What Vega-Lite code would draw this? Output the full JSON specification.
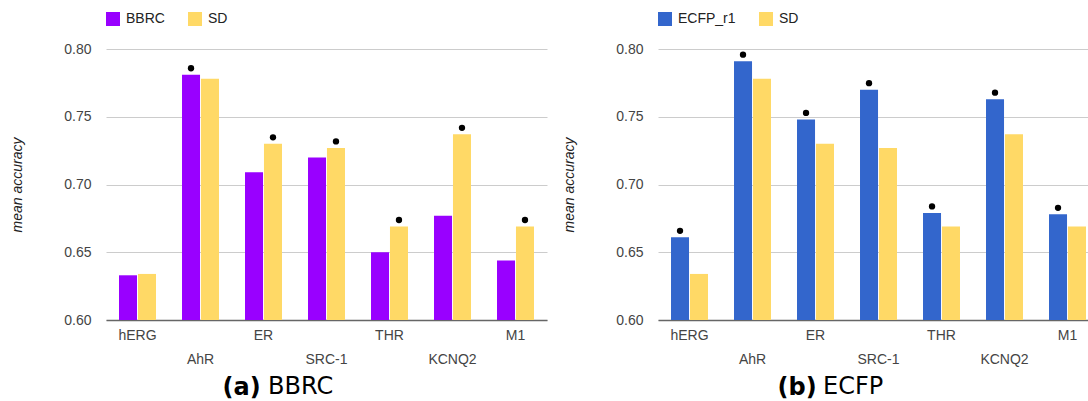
{
  "$schema": "https://vega.github.io/schema/vega-lite/v6.json",
  "padding": {"left": 10, "top": 12, "right": 0, "bottom": 0},
  "spacing": 15,
  "background": "white",
  "datasets": {
    "bbrc": [
      {"target": "hERG", "series": "BBRC", "value": 0.633, "sig": false},
      {"target": "hERG", "series": "SD", "value": 0.634, "sig": false},
      {"target": "AhR", "series": "BBRC", "value": 0.781, "sig": true},
      {"target": "AhR", "series": "SD", "value": 0.778, "sig": false},
      {"target": "ER", "series": "BBRC", "value": 0.709, "sig": false},
      {"target": "ER", "series": "SD", "value": 0.730, "sig": true},
      {"target": "SRC-1", "series": "BBRC", "value": 0.720, "sig": false},
      {"target": "SRC-1", "series": "SD", "value": 0.727, "sig": true},
      {"target": "THR", "series": "BBRC", "value": 0.650, "sig": false},
      {"target": "THR", "series": "SD", "value": 0.669, "sig": true},
      {"target": "KCNQ2", "series": "BBRC", "value": 0.677, "sig": false},
      {"target": "KCNQ2", "series": "SD", "value": 0.737, "sig": true},
      {"target": "M1", "series": "BBRC", "value": 0.644, "sig": false},
      {"target": "M1", "series": "SD", "value": 0.669, "sig": true}
    ],
    "ecfp": [
      {"target": "hERG", "series": "ECFP_r1", "value": 0.661, "sig": true},
      {"target": "hERG", "series": "SD", "value": 0.634, "sig": false},
      {"target": "AhR", "series": "ECFP_r1", "value": 0.791, "sig": true},
      {"target": "AhR", "series": "SD", "value": 0.778, "sig": false},
      {"target": "ER", "series": "ECFP_r1", "value": 0.748, "sig": true},
      {"target": "ER", "series": "SD", "value": 0.730, "sig": false},
      {"target": "SRC-1", "series": "ECFP_r1", "value": 0.770, "sig": true},
      {"target": "SRC-1", "series": "SD", "value": 0.727, "sig": false},
      {"target": "THR", "series": "ECFP_r1", "value": 0.679, "sig": true},
      {"target": "THR", "series": "SD", "value": 0.669, "sig": false},
      {"target": "KCNQ2", "series": "ECFP_r1", "value": 0.763, "sig": true},
      {"target": "KCNQ2", "series": "SD", "value": 0.737, "sig": false},
      {"target": "M1", "series": "ECFP_r1", "value": 0.678, "sig": true},
      {"target": "M1", "series": "SD", "value": 0.669, "sig": false}
    ]
  },
  "hconcat": [
    {
      "width": 441,
      "height": 271,
      "data": {"name": "bbrc"},
      "title": {"text": "BBRC", "orient": "bottom", "anchor": "start", "frame": "group", "dx": 162, "offset": -6, "baseline": "alphabetic", "font": "DejaVu Sans", "fontSize": 24, "fontWeight": "normal", "color": "#000000"},
      "encoding": {
        "x": {"field": "target", "type": "nominal", "sort": ["hERG", "AhR", "ER", "SRC-1", "THR", "KCNQ2", "M1"],
          "scale": {"paddingInner": 0.413, "paddingOuter": 0.2065},
          "axis": {"title": "(a)", "titleX": 116, "titleY": 74.5, "titleAlign": "left", "titleBaseline": "alphabetic", "titleAnchor": null,
            "labelAngle": 0, "labelExpr": "indexof(['AhR','SRC-1','KCNQ2'], datum.value) >= 0 ? ['', datum.label] : datum.label"}},
        "xOffset": {"field": "series", "type": "nominal", "sort": ["BBRC", "SD"], "scale": {"paddingInner": 0.05}},
        "y": {"field": "value", "type": "quantitative", "scale": {"domain": [0.6, 0.8], "zero": false, "nice": false},
          "axis": {"title": "mean accuracy", "values": [0.6, 0.65, 0.7, 0.75, 0.8], "format": ".2f"}},
        "color": {"field": "series", "type": "nominal", "sort": ["BBRC", "SD"],
          "scale": {"domain": ["BBRC", "SD"], "range": ["#9900ff", "#ffd966"]},
          "legend": {"title": null}}
      },
      "layer": [
        {"mark": {"type": "bar"}, "encoding": {"y2": {"datum": 0.6}}},
        {"transform": [{"filter": "datum.sig"}],
          "mark": {"type": "point", "filled": true, "size": 40, "opacity": 1},
          "encoding": {"color": {"value": "#000000"}, "yOffset": {"value": -6.5}}}
      ]
    },
    {
      "width": 441,
      "height": 271,
      "data": {"name": "ecfp"},
      "title": {"text": "ECFP", "orient": "bottom", "anchor": "start", "frame": "group", "dx": 165, "offset": -6, "baseline": "alphabetic", "font": "DejaVu Sans", "fontSize": 24, "fontWeight": "normal", "color": "#000000"},
      "encoding": {
        "x": {"field": "target", "type": "nominal", "sort": ["hERG", "AhR", "ER", "SRC-1", "THR", "KCNQ2", "M1"],
          "scale": {"paddingInner": 0.413, "paddingOuter": 0.2065},
          "axis": {"title": "(b)", "titleX": 119, "titleY": 74.5, "titleAlign": "left", "titleBaseline": "alphabetic", "titleAnchor": null,
            "labelAngle": 0, "labelExpr": "indexof(['AhR','SRC-1','KCNQ2'], datum.value) >= 0 ? ['', datum.label] : datum.label"}},
        "xOffset": {"field": "series", "type": "nominal", "sort": ["ECFP_r1", "SD"], "scale": {"paddingInner": 0.05}},
        "y": {"field": "value", "type": "quantitative", "scale": {"domain": [0.6, 0.8], "zero": false, "nice": false},
          "axis": {"title": "mean accuracy", "values": [0.6, 0.65, 0.7, 0.75, 0.8], "format": ".2f"}},
        "color": {"field": "series", "type": "nominal", "sort": ["ECFP_r1", "SD"],
          "scale": {"domain": ["ECFP_r1", "SD"], "range": ["#3366cc", "#ffd966"]},
          "legend": {"title": null}}
      },
      "layer": [
        {"mark": {"type": "bar"}, "encoding": {"y2": {"datum": 0.6}}},
        {"transform": [{"filter": "datum.sig"}],
          "mark": {"type": "point", "filled": true, "size": 40, "opacity": 1},
          "encoding": {"color": {"value": "#000000"}, "yOffset": {"value": -6.5}}}
      ]
    }
  ],
  "resolve": {"scale": {"color": "independent", "x": "independent", "y": "independent", "xOffset": "independent"}, "legend": {"color": "independent"}},
  "config": {
    "font": "Liberation Sans",
    "view": {"stroke": null},
    "axisX": {
      "domain": true, "domainColor": "#666666", "domainWidth": 1.5, "ticks": false, "grid": false,
      "labelFont": "Liberation Sans", "labelFontSize": 14, "labelColor": "#444444", "labelPadding": 8, "labelLineHeight": 24,
      "titleFont": "DejaVu Sans", "titleFontSize": 24, "titleFontWeight": "bold", "titleColor": "#000000"
    },
    "axisY": {
      "domain": false, "ticks": false, "grid": true, "gridColor": "#cccccc", "gridWidth": 1,
      "labelFont": "Liberation Sans", "labelFontSize": 14, "labelColor": "#444444", "labelPadding": 15,
      "minExtent": 45, "maxExtent": 45,
      "titleFont": "Liberation Sans", "titleFontSize": 14, "titleFontStyle": "italic", "titleFontWeight": "normal", "titleColor": "#222222", "titlePadding": 37
    },
    "legend": {
      "orient": "top", "direction": "horizontal", "offset": 23, "padding": 0,
      "symbolType": "square", "symbolSize": 196, "symbolStrokeWidth": 0, "symbolOpacity": 1,
      "labelFont": "Liberation Sans", "labelFontSize": 14, "labelColor": "#222222", "labelOffset": 6,
      "columnPadding": 23
    }
  }
}
